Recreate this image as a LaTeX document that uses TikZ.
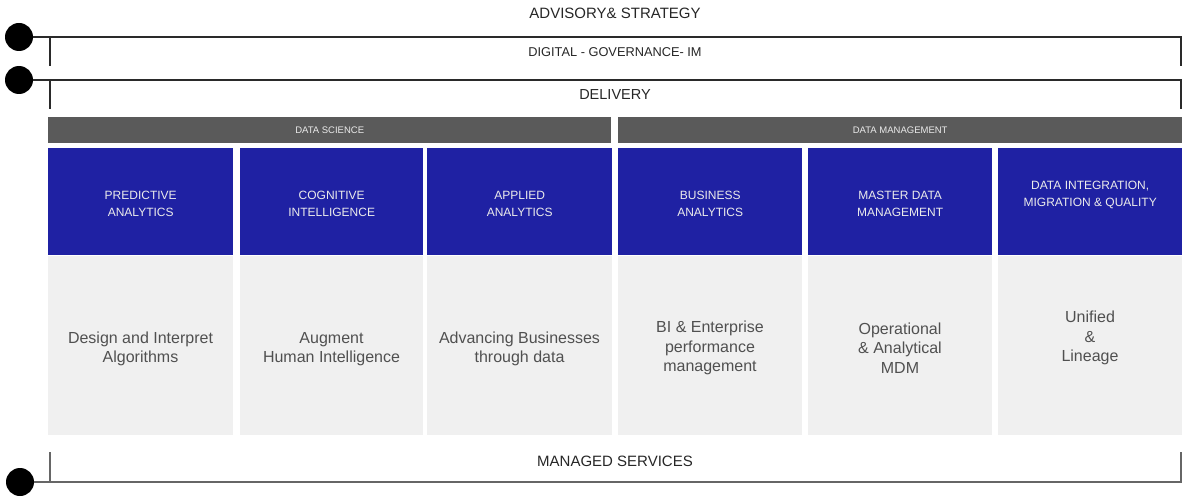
\documentclass[tikz,border=0pt]{standalone}
\usepackage{fontspec}
\setmainfont{Liberation Sans}
\definecolor{hdrgray}{HTML}{5A5A5A}
\definecolor{boxblue}{HTML}{1F21A3}
\definecolor{lightbox}{HTML}{F0F0F0}
\definecolor{bodytext}{HTML}{505050}
\definecolor{bandline}{HTML}{2A2A2A}
\begin{document}
\begin{tikzpicture}[x=1pt,y=-1pt,
  band/.style={line width=1.4pt, draw=bandline},
  lowband/.style={line width=1.4pt, draw=black!60},
  dot/.style={circle, fill=black, minimum size=28pt, inner sep=0pt},
  bandlabel/.style={text=black!85, inner sep=0pt},
  hdrbox/.style={fill=hdrgray, draw=none, anchor=north west, inner sep=0pt, minimum height=26pt},
  hdrtext/.style={text=white!92!black, font=\fontsize{9.5}{11}\selectfont, inner sep=0pt},
  bluebox/.style={fill=boxblue, draw=none, anchor=north west, inner sep=0pt, minimum height=107pt},
  bluetext/.style={text=white!92!black, font=\fontsize{12}{16.5}\selectfont, align=center, inner sep=0pt},
  greybox/.style={fill=lightbox, draw=none, anchor=north west, inner sep=0pt, minimum height=179pt},
  greytext/.style={text=bodytext, font=\fontsize{16}{19.5}\selectfont, align=center, inner sep=0pt}
]
\useasboundingbox (0,0) rectangle (1182,497);

% top band labels
\node[bandlabel, font=\fontsize{15}{18}\selectfont] (adv) at (615,13) {ADVISORY\& STRATEGY};
\node[bandlabel, font=\fontsize{12.8}{15}\selectfont] (dig) at (615,52) {DIGITAL - GOVERNANCE- IM};
\node[bandlabel, font=\fontsize{14.5}{17}\selectfont] (del) at (615,95) {DELIVERY};
\node[bandlabel, font=\fontsize{15}{18}\selectfont] (man) at (615,461) {MANAGED SERVICES};

% dots
\node[dot] (d1) at (19,37) {};
\node[dot] (d2) at (19,80) {};
\node[dot] (d3) at (20,482) {};

% bracket coordinates
\coordinate (r1t) at (1181,37); \coordinate (r1b) at (1181,66);
\coordinate (l1t) at (50,37);   \coordinate (l1b) at (50,66);
\coordinate (r2t) at (1181,80); \coordinate (r2b) at (1181,109);
\coordinate (l2t) at (50,80);   \coordinate (l2b) at (50,109);
\coordinate (r3b) at (1181,482); \coordinate (r3t) at (1181,452);
\coordinate (l3b) at (50,482);   \coordinate (l3t) at (50,452);

\draw[band] (d1.east) -- (r1t) -- (r1b);
\draw[band] (l1t) -- (l1b);
\draw[band] (d2.east) -- (r2t) -- (r2b);
\draw[band] (l2t) -- (l2b);
\draw[lowband] (d3.east) -- (r3b) -- (r3t);
\draw[lowband] (l3b) -- (l3t);

% headers
\node[hdrbox, minimum width=563pt] (ds) at (48,117) {};
\node[hdrtext] at (ds.center) {DATA SCIENCE};
\node[hdrbox, minimum width=564pt] (dm) at (618,117) {};
\node[hdrtext] at (dm.center) {DATA MANAGEMENT};

% blue boxes
\node[bluebox, minimum width=185pt] (b1) at (48,148) {};
\node[bluebox, minimum width=183pt] (b2) at (240,148) {};
\node[bluebox, minimum width=185pt] (b3) at (427,148) {};
\node[bluebox, minimum width=184pt] (b4) at (618,148) {};
\node[bluebox, minimum width=184pt] (b5) at (808,148) {};
\node[bluebox, minimum width=184pt] (b6) at (998,148) {};

\node[bluetext] at ([yshift=-2pt]b1.center) {PREDICTIVE\\ANALYTICS};
\node[bluetext] at ([yshift=-2pt]b2.center) {COGNITIVE\\INTELLIGENCE};
\node[bluetext] at ([yshift=-2pt]b3.center) {APPLIED\\ANALYTICS};
\node[bluetext] at ([yshift=-2pt]b4.center) {BUSINESS\\ANALYTICS};
\node[bluetext] at ([yshift=-2pt]b5.center) {MASTER DATA\\MANAGEMENT};
\node[bluetext] at ([yshift=7pt]b6.center) {DATA INTEGRATION,\\MIGRATION \& QUALITY};

% grey boxes
\node[greybox, minimum width=185pt] (g1) at (48,256) {};
\node[greybox, minimum width=183pt] (g2) at (240,256) {};
\node[greybox, minimum width=185pt] (g3) at (427,256) {};
\node[greybox, minimum width=184pt] (g4) at (618,256) {};
\node[greybox, minimum width=184pt] (g5) at (808,256) {};
\node[greybox, minimum width=184pt] (g6) at (998,256) {};

\node[greytext] at (140.5,349) {Design and Interpret\\Algorithms};
\node[greytext] at (331.5,349) {Augment\\Human Intelligence};
\node[greytext] at (519.5,349) {Advancing Businesses\\through data};
\node[greytext] at (710,348) {BI \& Enterprise\\performance\\management};
\node[greytext] at (900,348) {Operational\\\& Analytical\\MDM};
\node[greytext] at (1090,338) {Unified\\\&\\Lineage};

\end{tikzpicture}
\end{document}
